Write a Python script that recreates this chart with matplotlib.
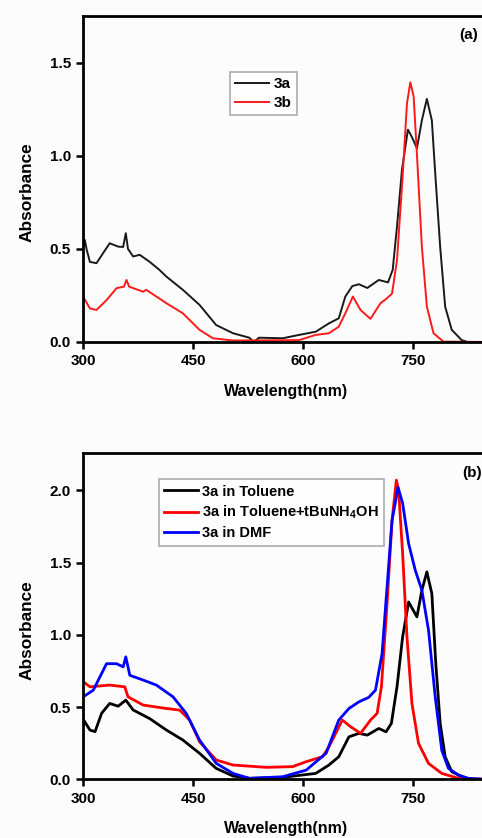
import numpy as np
import matplotlib
matplotlib.use("Agg")
import matplotlib.pyplot as plt

plt.rcParams['font.family'] = ['Liberation Sans', 'DejaVu Sans']
plt.rcParams['font.weight'] = 'bold'
plt.rcParams['mathtext.fontset'] = 'custom'
plt.rcParams['mathtext.rm'] = 'Liberation Sans:bold'

# ---- panel (a) data ----
wl_3a = [300, 302, 304.6, 309, 318, 327, 336, 347.6, 354.4, 358, 361, 368, 377, 390.7, 404,
         413.5, 436, 458.8, 481.5, 504.5, 526.8, 533, 540, 572.5, 594.8, 617.5, 635.6, 649, 658, 667.5,
         676.5, 688, 703.7, 716.3, 722.7, 728.6, 735.4, 743.5, 749, 755.8, 762.6, 769.4, 776.2, 780.8, 787.6,
         794.4, 803.4, 817, 825, 850]
abs_3a = [0.52, 0.548, 0.495, 0.43, 0.423, 0.477, 0.53, 0.512, 0.51, 0.584, 0.50, 0.459, 0.468, 0.43, 0.387,
          0.351, 0.28, 0.199, 0.091, 0.047, 0.023, 0.0, 0.023, 0.02, 0.038, 0.055, 0.10, 0.127, 0.244, 0.30,
          0.31, 0.29, 0.333, 0.32, 0.387, 0.62, 0.925, 1.14, 1.10, 1.04, 1.19, 1.305, 1.19, 0.907, 0.51,
          0.19, 0.065, 0.01, 0.0, 0.0]

wl_3b = [300, 301, 309, 318, 332, 345.4, 355.4, 359, 362.6, 381.6, 386, 404, 413.5, 436, 458.8,
         477, 504.5, 594.8, 617.5, 635.6, 649, 658, 668.3, 678.7, 692.3, 706, 715, 721.8, 728.6, 736.3,
         742.2, 746.8, 751.3, 755.8, 762.6, 769.4, 778.5, 792, 850]
abs_3b = [0.24, 0.235, 0.18, 0.172, 0.226, 0.289, 0.297, 0.333, 0.297, 0.27, 0.28, 0.233, 0.208, 0.154, 0.065,
          0.02, 0.008, 0.01, 0.038, 0.047, 0.082, 0.154, 0.244, 0.172, 0.124, 0.208, 0.235, 0.26, 0.44, 0.89,
          1.28, 1.394, 1.32, 1.01, 0.51, 0.19, 0.047, 0.002, 0.0]

# ---- panel (b) data ----
wl_tol = [300, 300.5, 309, 316, 325, 336, 347.6, 358, 368, 390.7, 413.5, 436, 458.8, 481.5, 504.5,
          527, 572.5, 617.5, 635.6, 649, 662.9, 676.5, 688, 703.7, 713.6, 720.9, 728.6, 736.3, 744.5, 755.8,
          762.6, 769.4, 776.2, 781.6, 787.6, 794.4, 803.4, 817, 830, 850]
abs_tol = [0.38, 0.41, 0.341, 0.33, 0.457, 0.525, 0.506, 0.548, 0.48, 0.42, 0.341, 0.272, 0.18, 0.076, 0.023,
           0.007, 0.014, 0.041, 0.099, 0.156, 0.294, 0.318, 0.306, 0.352, 0.329, 0.387, 0.64, 0.986, 1.227, 1.124,
           1.308, 1.435, 1.285, 0.80, 0.387, 0.156, 0.053, 0.018, 0.0, 0.0]

wl_base = [300, 309, 336, 356.6, 361, 381.6, 413.5, 431.6, 445.3, 458.8, 481.5, 504.5, 550, 586, 604.5,
           627, 635.6, 644.8, 653.8, 665.2, 678.8, 692.4, 701.4, 707.3, 715, 721.8, 727.7, 730.8, 736.3, 742.2,
           749, 758, 771.7, 789.8, 812.5, 850]
abs_base = [0.675, 0.64, 0.652, 0.64, 0.571, 0.514, 0.49, 0.479, 0.41, 0.26, 0.134, 0.099, 0.083, 0.088, 0.122,
            0.157, 0.225, 0.318, 0.41, 0.364, 0.318, 0.41, 0.456, 0.64, 1.216, 1.79, 2.07, 2.0, 1.56, 0.986,
            0.525, 0.249, 0.11, 0.041, 0.007, 0.0]

wl_dmf = [300, 313.6, 331.7, 345.4, 354.4, 358, 363.5, 381.6, 399.8, 422.5, 440.6, 458.8, 481.5, 504.5, 527,
          572.5, 604.5, 631.7, 649, 662.9, 676.5, 690, 699.2, 708.2, 715, 721.8, 730, 736.3, 744.5, 753.6,
          762.6, 771.7, 780.8, 789.8, 798.9, 812.5, 826, 850]
abs_dmf = [0.571, 0.617, 0.80, 0.80, 0.778, 0.847, 0.72, 0.687, 0.652, 0.571, 0.456, 0.272, 0.111, 0.041, 0.007,
           0.018, 0.064, 0.18, 0.41, 0.49, 0.536, 0.567, 0.617, 0.87, 1.33, 1.79, 2.02, 1.91, 1.63, 1.446,
           1.308, 1.03, 0.571, 0.2, 0.076, 0.03, 0.007, 0.0]

xticks = [300, 450, 600, 750]

fig = plt.figure(figsize=(4.82, 8.38), dpi=100)
fig.patch.set_facecolor('#fcfcfc')

ax1 = fig.add_axes([0.1729, 0.5919, 0.911, 0.389])
ax2 = fig.add_axes([0.1729, 0.0700, 0.911, 0.389])


def style(ax, ymax, yticks, ylab_y):
    ax.set_facecolor('#fcfcfc')
    ax.set_xlim(300, 900)
    ax.set_ylim(0, ymax)
    ax.set_xticks(xticks)
    ax.set_yticks(yticks)
    ax.set_yticklabels(['%.1f' % t for t in yticks])
    for s in ax.spines.values():
        s.set_linewidth(2)
    ax.tick_params(direction='out', length=5, width=1.8, labelsize=11, pad=4)
    for lab in ax.get_xticklabels() + ax.get_yticklabels():
        lab.set_fontweight('bold')
    ax.set_xlabel('Wavelength(nm)', fontsize=11.5, fontweight='bold', labelpad=11)
    ax.set_ylabel('Absorbance', fontsize=12.4, fontweight='bold', labelpad=11)
    ax.xaxis.label.set_x(0.462)
    ax.yaxis.label.set_y(ylab_y)


ax1.plot(wl_3a, abs_3a, color='#1a1a1a', lw=1.4, label='3a')
ax1.plot(wl_3b, abs_3b, color='#ff1a1a', lw=1.4, label='3b')
style(ax1, 1.75, [0.0, 0.5, 1.0, 1.5], 0.46)
leg1 = ax1.legend(loc='upper left', bbox_to_anchor=(0.334, 0.828), borderaxespad=0, frameon=True,
                  fancybox=False, edgecolor='#999999', handlelength=2.2, handletextpad=0.3,
                  borderpad=0.35, labelspacing=0.3, prop={'size': 11, 'weight': 'bold'})
leg1.get_frame().set_linewidth(1.2)
ax1.text(0.878, 0.942, '(a)', transform=ax1.transAxes, fontsize=11, fontweight='bold',
         ha='center', va='center')

ax2.plot(wl_tol, abs_tol, color='#000000', lw=2, label='3a in Toluene')
ax2.plot(wl_base, abs_base, color='#ff0000', lw=2, label=r'3a in Toluene+tBuNH$_\mathrm{4}$OH')
ax2.plot(wl_dmf, abs_dmf, color='#0000ff', lw=2, label='3a in DMF')
style(ax2, 2.255, [0.0, 0.5, 1.0, 1.5, 2.0], 0.458)
leg2 = ax2.legend(loc='upper left', bbox_to_anchor=(0.172, 0.920), borderaxespad=0, frameon=True,
                  fancybox=False, edgecolor='#999999', handlelength=2.3, handletextpad=0.3,
                  borderpad=0.35, labelspacing=0.35, prop={'size': 10.5, 'weight': 'bold'})
leg2.get_frame().set_linewidth(1.2)
ax2.text(0.885, 0.939, '(b)', transform=ax2.transAxes, fontsize=11, fontweight='bold',
         ha='center', va='center')

fig.savefig('out.png', dpi=100, facecolor=fig.get_facecolor())
